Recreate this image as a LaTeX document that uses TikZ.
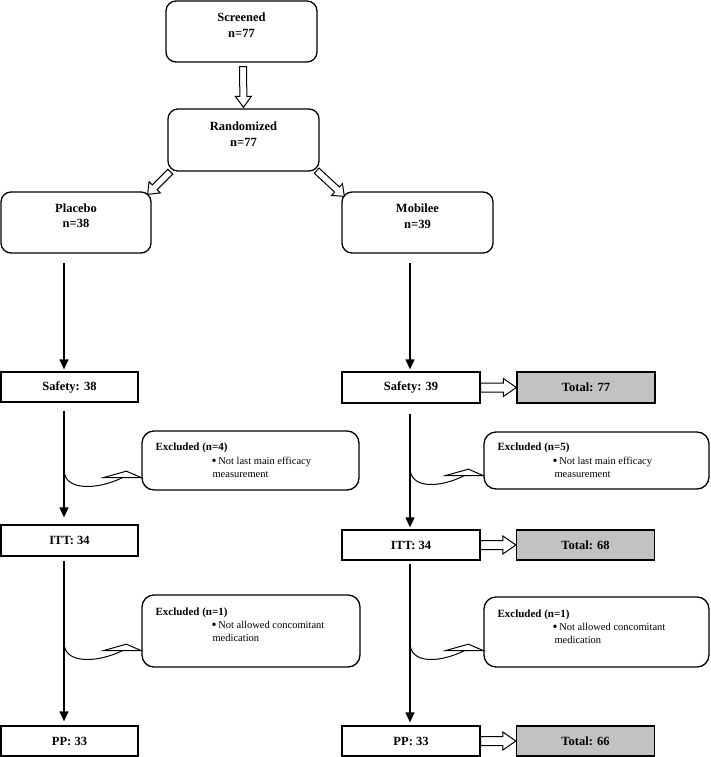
\documentclass[tikz,border=0pt]{standalone}
\usepackage{fontspec}
\setmainfont{Liberation Serif}
\usetikzlibrary{calc,arrows.meta}
\definecolor{boxgray}{RGB}{194,194,194}
\newcommand{\harrow}[5]{%
  \coordinate (hA) at #1; \coordinate (hB) at #2;
  \coordinate (hC) at ($(hB)!#5!(hA)$);
  \draw[hollow] ($(hA)!#3!90:(hB)$) -- ($(hC)!#3!-90:(hA)$) -- ($(hC)!#4!-90:(hA)$) -- (hB)
    -- ($(hC)!#4!90:(hA)$) -- ($(hC)!#3!90:(hA)$) -- ($(hA)!#3!-90:(hB)$) -- cycle;}
\newcommand{\exarrow}[2]{%
  \draw[line width=1pt] ($(#1 |- #2)+(0,-8)$) .. controls +(0,22) and +(-24,12) .. ($(#2)+(-19,0)$);
  \draw[hollow] (#2) -- ++(-15,-6.5) -- ++(-23,6.5) -- cycle;}
\newcommand{\bul}{\raisebox{-0.2ex}{\scalebox{1.35}{\textbullet}}}
\begin{document}
\begin{tikzpicture}[x=1pt,y=-1pt,
  rbox/.style={draw, line width=1.3pt, rounded corners=10pt, inner sep=0pt},
  sbox/.style={draw, line width=1.3pt, inner sep=0pt, minimum height=30pt, font=\bfseries\fontsize{12.5}{15}\selectfont},
  tbox/.style={sbox, fill=boxgray, minimum width=138pt},
  ebox/.style={draw, line width=1.3pt, rounded corners=12pt, inner sep=0pt},
  lbl/.style={font=\bfseries\fontsize{12.5}{15.5}\selectfont, align=center, inner sep=0pt},
  ehead/.style={font=\bfseries\fontsize{11}{13}\selectfont, inner sep=0pt, anchor=base west},
  etxt/.style={font=\fontsize{10.5}{13}\selectfont, inner sep=0pt, anchor=base west},
  arr/.style={line width=1.3pt, -{Triangle[length=10pt,width=9pt]}},
  hollow/.style={draw, line width=1pt, fill=white, line join=miter},
]
\useasboundingbox (0,0) rectangle (710,757);
\coordinate (colL) at (64,0);
\coordinate (colR) at (410,0);

% top boxes
\node[rbox, minimum width=151pt, minimum height=61pt] (screened) at (241.5,31.5) {};
\node[lbl] (screenedT) at ($(screened.center)+(0,-6.5)$) {Screened\\n=77};
\node[rbox, minimum width=151pt, minimum height=62pt] (rand) at (243.5,140) {};
\node[lbl] (randT) at ($(rand.center)+(0,-6)$) {Randomized\\n=77};
\node[rbox, minimum width=150pt, minimum height=61pt] (placebo) at (76,222.5) {};
\node[lbl] (placeboT) at ($(placebo.center)+(0,-7)$) {Placebo\\n=38};
\node[rbox, minimum width=151pt, minimum height=61pt] (mobilee) at (417.5,222.5) {};
\node[lbl] (mobileeT) at ($(mobilee.center)+(0,-6.5)$) {Mobilee\\n=39};

% population boxes
\node[sbox, minimum width=137pt] (safetyL) at (69.5,387) {Safety: 38};
\node[sbox, minimum width=138pt, minimum height=31pt] (safetyR) at (411,387.5) {Safety: 39};
\node[tbox, minimum height=31pt] (totalA) at (586,387.5) {Total: 77};
\node[sbox, minimum width=137pt, minimum height=31pt] (ittL) at (69.5,540.5) {ITT: 34};
\node[sbox, minimum width=138pt] (ittR) at (411,545) {ITT: 34};
\node[tbox] (totalB) at (585.5,545) {Total: 68};
\node[sbox, minimum width=137pt] (ppL) at (69.5,741) {PP: 33};
\node[sbox, minimum width=138pt] (ppR) at (411,741) {PP: 33};
\node[tbox] (totalC) at (585.5,741) {Total: 66};

% excluded boxes
\node[ebox, minimum width=217pt, minimum height=59pt] (exL1) at (250.5,460.5) {};
\node[ebox, minimum width=225pt, minimum height=57pt] (exR1) at (596.5,460.5) {};
\node[ebox, minimum width=218pt, minimum height=72pt] (exL2) at (251,631) {};
\node[ebox, minimum width=225pt, minimum height=70pt] (exR2) at (596.5,632) {};

\node[ehead] (exL1a) at ($(exL1.north west)+(14,20)$) {Excluded (n=4)};
\node[etxt] (exL1b) at ($(exL1.north west)+(70,34)$) {\bul\,Not last main efficacy};
\node[etxt] (exL1c) at ($(exL1.north west)+(71,47)$) {measurement};
\node[ehead] (exR1a) at ($(exR1.north west)+(14,19)$) {Excluded (n=5)};
\node[etxt] (exR1b) at ($(exR1.north west)+(69,33)$) {\bul\,Not last main efficacy};
\node[etxt] (exR1c) at ($(exR1.north west)+(71,46)$) {measurement};
\node[ehead] (exL2a) at ($(exL2.north west)+(14,21)$) {Excluded (n=1)};
\node[etxt] (exL2b) at ($(exL2.north west)+(70,34)$) {\bul\,Not allowed concomitant};
\node[etxt] (exL2c) at ($(exL2.north west)+(71,47)$) {medication};
\node[ehead] (exR2a) at ($(exR2.north west)+(14,21)$) {Excluded (n=1)};
\node[etxt] (exR2b) at ($(exR2.north west)+(69,34)$) {\bul\,Not allowed concomitant};
\node[etxt] (exR2c) at ($(exR2.north west)+(71,47)$) {medication};

% hollow arrows
\harrow{($(screened.south)+(1.5,4)$)}{($(rand.north)+(0,-1)$)}{3.5pt}{8pt}{11pt}
\harrow{($(rand.south west)+(3,0)$)}{($(placebo.north east)+(-4,3)$)}{3.5pt}{8pt}{10pt}
\harrow{($(rand.south east)+(-3,-1)$)}{($(mobilee.north west)+(3,5)$)}{3.5pt}{8pt}{10pt}
\harrow{(safetyR.east)}{(totalA.west)}{4.5pt}{9pt}{13pt}
\harrow{(ittR.east)}{(totalB.west)}{4.5pt}{9pt}{13pt}
\harrow{(ppR.east)}{(totalC.west)}{4.5pt}{9pt}{13pt}

% flow arrows
\draw[arr, shorten >=2pt] ($(placebo.south -| colL)+(0,9)$) -- (safetyL.north -| colL);
\draw[arr, shorten >=7pt] ($(safetyL.south -| colL)+(0,8)$) -- (ittL.north -| colL);
\draw[arr, shorten >=4pt] ($(ittL.south -| colL)+(0,4)$) -- (ppL.north -| colL);
\draw[arr, shorten >=2pt] ($(mobilee.south -| colR)+(0,9)$) -- (safetyR.north -| colR);
\draw[arr, shorten >=2pt] ($(safetyR.south -| colR)+(0,10)$) -- (ittR.north -| colR);
\draw[arr, shorten >=3pt] ($(ittR.south -| colR)+(0,3)$) -- (ppR.north -| colR);

% exclusion arrows
\coordinate (c1) at ($(exL1.south west)+(0,-13)$);
\coordinate (c2) at ($(exL2.south west)+(0,-17)$);
\coordinate (c3) at ($(exR1.south west)+(0,-14)$);
\coordinate (c4) at ($(exR2.south west)+(0,-17)$);
\exarrow{colL}{c1}
\exarrow{colL}{c2}
\exarrow{colR}{c3}
\exarrow{colR}{c4}
\end{tikzpicture}
\end{document}
